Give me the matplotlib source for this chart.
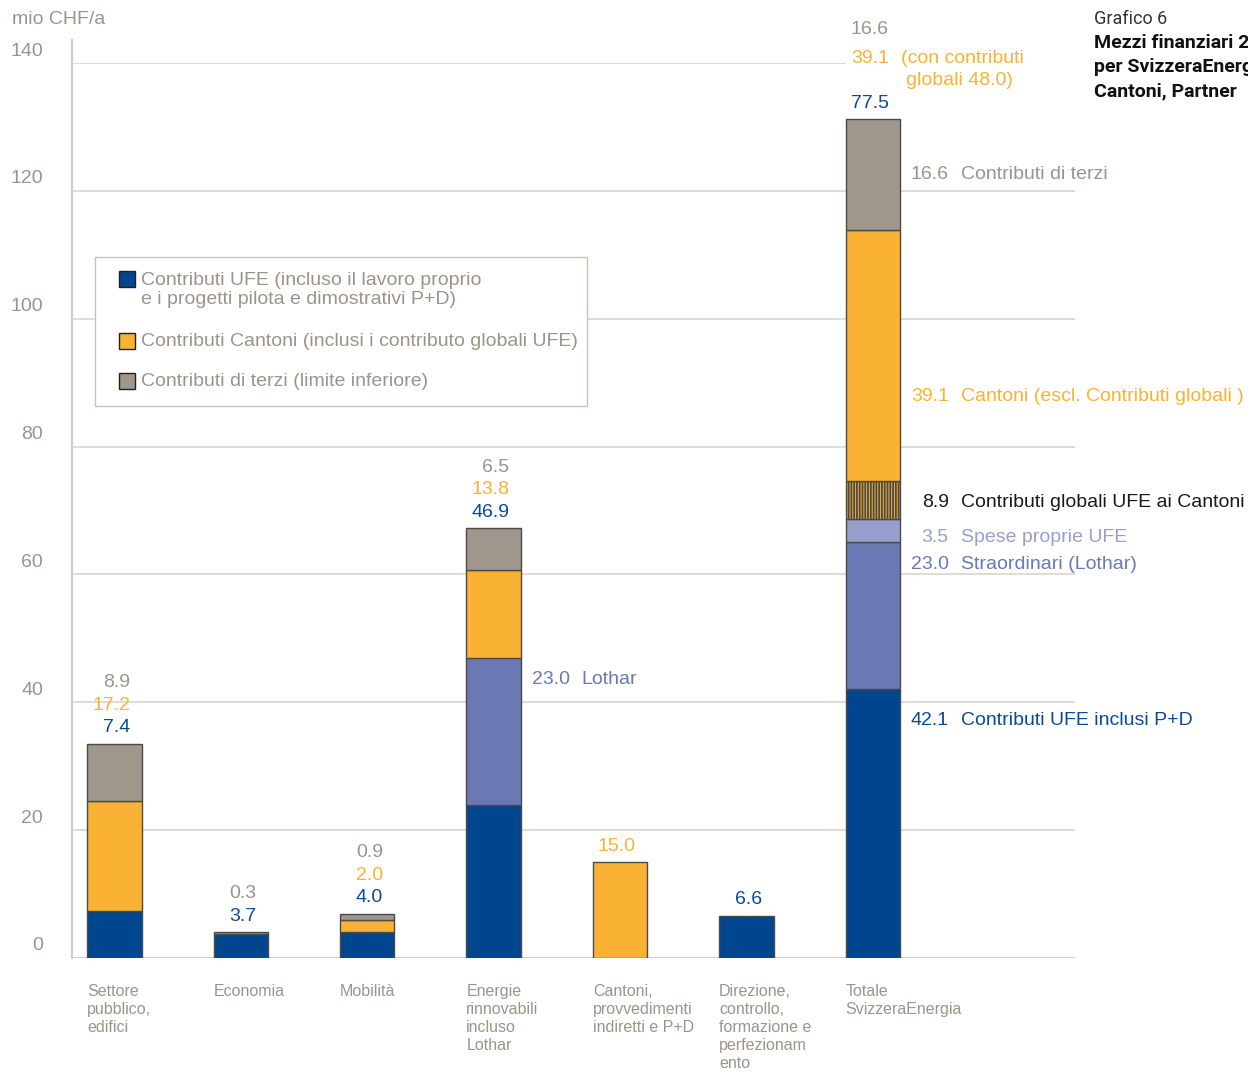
import numpy as np
import matplotlib
matplotlib.use('Agg')
from matplotlib import pyplot as plt
from matplotlib.patches import Rectangle
from matplotlib.lines import Line2D

plt.rcParams['font.family'] = ['Liberation Sans', 'DejaVu Sans']
plt.rcParams['hatch.linewidth'] = 1.3
plt.rcParams['hatch.color'] = '#0a4a96'

# data (mio CHF/a)
categories = ['Settore\npubblico,\nedifici', 'Economia', 'Mobilità',
              'Energie\nrinnovabili\nincluso\nLothar',
              'Cantoni,\nprovvedimenti\nindiretti e P+D',
              'Direzione,\ncontrollo,\nformazione e\nperfezionam\nento',
              'Totale\nSvizzeraEnergia']
ufe = [7.4, 3.7, 4.0, 23.9, 0, 6.6, 42.1]
lothar = [0, 0, 0, 23.0, 0, 0, 23.0]
spese_ufe = [0, 0, 0, 0, 0, 0, 3.5]
globali = [0, 0, 0, 0, 0, 0, 6.0]
cantoni = [17.2, 0, 2.0, 13.8, 15.0, 0, 39.2]
terzi = [8.9, 0.3, 0.9, 6.5, 0, 0, 17.4]

# value labels above bars (top row first)
top_labels = [['8.9', '17.2', '7.4'], ['0.3', '3.7'], ['0.9', '2.0', '4.0'],
              ['6.5', '13.8', '46.9'], ['15.0'], ['6.6'], ['16.6', '39.1', '', '77.5']]
top_kinds = [['t', 'c', 'u'], ['t', 'u'], ['t', 'c', 'u'], ['t', 'c', 'u'], ['c'], ['u'], ['t', 'c', 'c', 'u']]

# side annotations: (bar index, y, number, text, kind)
side_notes = [(6, 122.5, '16.6', 'Contributi di terzi', 't'),
              (6, 87.8, '39.1', 'Cantoni (escl. Contributi globali )', 'c'),
              (6, 71.2, '8.9', 'Contributi globali UFE ai Cantoni', 'k'),
              (6, 65.7, '3.5', 'Spese proprie UFE', 's'),
              (6, 61.5, '23.0', 'Straordinari (Lothar)', 'l'),
              (6, 37.2, '42.1', 'Contributi UFE inclusi P+D', 'u'),
              (3, 43.5, '23.0', 'Lothar', 'l')]

yticks = [0, 20, 40, 60, 80, 100, 120, 140]

legend_labels = ['Contributi UFE (incluso il lavoro proprio\ne i progetti pilota e dimostrativi P+D)',
                 'Contributi Cantoni (inclusi i contributo globali UFE)',
                 'Contributi di terzi (limite inferiore)']

c_blue = '#00468e'
c_blue_t = '#0a4a96'
c_orange = '#f9b233'
c_gray = '#a0978c'
c_gray_t = '#9c948a'
c_slate = '#6a79b4'
c_light = '#97a0cc'
c_grid = '#ddd8d0'
text_col = {'t': c_gray_t, 'c': c_orange, 'u': c_blue_t, 'l': c_slate, 's': c_light, 'k': '#1a1a1a'}
FS = 14

W, H = 1248, 1072
def fx(px):
    return px / W
def fy(py):
    return 1 - py / H

fig = plt.figure(figsize=(12.48, 10.72), dpi=100)
ax = fig.add_axes([72/W, 114/H, 1003/W, 895/H])
ax.set_xlim(-0.335, 7.6)
ax.set_ylim(0, 140)
for s in ax.spines.values():
    s.set_visible(False)
ax.set_xticks([])
ax.set_yticks([])

# gridlines
for v in yticks:
    if v == 140:
        ax.axhline(v, xmin=0, xmax=0.771, color=c_grid, lw=1.3, zorder=0)
    elif v == 0:
        ax.axhline(v, color='#d2cdc5', lw=1.6, zorder=0)
    else:
        ax.axhline(v, color=c_grid, lw=1.3, zorder=0)
    ax.annotate(str(v), xy=(0, v), xycoords=('axes fraction', 'data'),
                xytext=(-29, 12), textcoords='offset pixels',
                ha='right', va='center', fontsize=FS, color=c_gray_t)
ax.add_line(Line2D([0, 0], [0, 1.026], transform=ax.transAxes, color='#d2cdc5',
                   lw=1.6, clip_on=False, zorder=0))

x = np.arange(len(categories))
w = 0.43
ec = '#4a4a4a'
bottom = np.zeros(len(categories))
series = [(ufe, c_blue, None), (lothar, c_slate, None), (spese_ufe, c_light, None),
          (globali, c_orange, '||||||'), (cantoni, c_orange, None), (terzi, c_gray, None)]
for vals, col, hatch in series:
    vals = np.array(vals, dtype=float)
    m = vals > 0
    ax.bar(x[m], vals[m], w, bottom=bottom[m], color=col, edgecolor=ec,
           linewidth=1.0, hatch=hatch, zorder=2)
    bottom += vals

# labels above bars
for i, (labs, kinds) in enumerate(zip(top_labels, top_kinds)):
    n = len(labs)
    for j, (lab, k) in enumerate(zip(labs, kinds)):
        row = n - 1 - j
        dy = 16 + 22.5 * row + (6 if row == 3 else 0)
        ax.annotate(lab, xy=(x[i], bottom[i]), xytext=(16, dy),
                    textcoords='offset pixels', ha='right', va='center',
                    fontsize=FS, color=text_col[k])
ax.annotate('(con contributi', xy=(x[6], bottom[6]), xytext=(28, 16 + 45),
            textcoords='offset pixels', ha='left', va='center', fontsize=FS, color=c_orange)
ax.annotate('globali 48.0)', xy=(x[6], bottom[6]), xytext=(33, 16 + 22.5),
            textcoords='offset pixels', ha='left', va='center', fontsize=FS, color=c_orange)

# side notes
for i, yv, num, txt, k in side_notes:
    ax.annotate(num, xy=(x[i], yv), xytext=(76, 0), textcoords='offset pixels',
                ha='right', va='center', fontsize=FS, color=text_col[k])
    ax.annotate(txt, xy=(x[i], yv), xytext=(88, 0), textcoords='offset pixels',
                ha='left', va='center', fontsize=FS, color=text_col[k])

# category labels
for i, cat in enumerate(categories):
    ax.annotate(cat, xy=(x[i] - w / 2, 0), xytext=(0, -26), textcoords='offset pixels',
                ha='left', va='top', fontsize=11.5, color=c_gray_t, linespacing=1.25)

# legend box
fig.add_artist(Rectangle((fx(95), fy(406)), fx(587) - fx(95), fy(257) - fy(406),
                         transform=fig.transFigure, facecolor='white', edgecolor='#c8c2b8',
                         lw=1.0, zorder=5))
leg_colors = [c_blue, c_orange, c_gray]
sq_y = [279, 341, 381]
txt_y = [290, 341, 381]
for lab, col, py, ty in zip(legend_labels, leg_colors, sq_y, txt_y):
    fig.add_artist(Rectangle((fx(119), fy(py + 8)), fx(16), 16 / H, transform=fig.transFigure,
                             facecolor=col, edgecolor='#222222', lw=1.0, zorder=6))
    fig.text(fx(141), fy(ty), lab, ha='left', va='center', fontsize=FS, color=c_gray_t,
             linespacing=1.15, zorder=6)

fig.text(fx(12), fy(20), 'mio CHF/a', ha='left', va='center', fontsize=FS, color=c_gray_t)
fig.text(fx(1094), fy(19), 'Grafico 6', ha='left', va='center', fontsize=13,
         color='#333333', family=['Roboto', 'DejaVu Sans'])
for txt, py in zip(['Mezzi finanziari 2002', 'per SvizzeraEnergia', 'Cantoni, Partner'], [43, 67, 91]):
    fig.text(fx(1094), fy(py), txt, ha='left', va='center', fontsize=14, color='#111111',
             fontweight='bold', family=['Roboto', 'DejaVu Sans'])

fig.savefig('out.png', dpi=100)
